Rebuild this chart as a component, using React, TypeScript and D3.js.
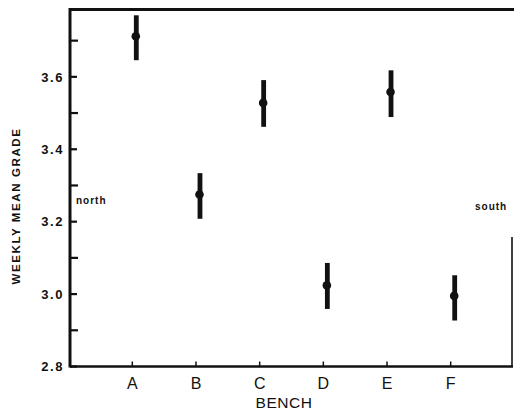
import React from "react";
import * as d3 from "d3";

const benches = ["A", "B", "C", "D", "E", "F"];
const meanGrade = [3.712, 3.275, 3.528, 3.024, 3.558, 2.995];
const upperGrade = [3.77, 3.334, 3.591, 3.086, 3.618, 3.052];
const lowerGrade = [3.646, 3.208, 3.462, 2.959, 3.489, 2.927];
const majorTicks = [2.8, 3.0, 3.2, 3.4, 3.6];
const minorTicks = [2.9, 3.1, 3.3, 3.5, 3.7];

const W = 514;
const H = 411;
const left = 70;
const right = 512;
const top = 9.5;
const bottom = 366.5;

export default function App() {
  const y = d3.scaleLinear().domain([2.8, 3.786]).range([bottom, top]);
  const x = d3.scalePoint<string>().domain(benches).range([132.3, 450.7]);
  const markOffset = 4;
  const ink = "#111";

  return (
    <svg
      width={W}
      height={H}
      style={{ position: "absolute", left: 0, top: 0, background: "#fff" }}
      fontFamily="'Liberation Sans', Arial, sans-serif"
    >
      <rect x={0} y={0} width={W} height={H} fill="#fff" />
      {/* frame */}
      <line x1={left} y1={top} x2={W} y2={top} stroke={ink} strokeWidth={3} />
      <line x1={left} y1={top - 1.5} x2={left} y2={bottom + 1} stroke={ink} strokeWidth={3} />
      <line x1={left} y1={bottom} x2={right + 1} y2={bottom} stroke={ink} strokeWidth={2.5} />
      <line x1={right} y1={237} x2={right} y2={bottom} stroke={ink} strokeWidth={1.6} />

      {/* y ticks */}
      {majorTicks.map((t) => (
        <g key={"M" + t}>
          <line x1={left} x2={left + 7} y1={y(t)} y2={y(t)} stroke={ink} strokeWidth={2.2} />
          <text
            x={64}
            y={y(t)}
            dy="0.36em"
            textAnchor="end"
            fontSize={13}
            fontWeight="bold"
            letterSpacing={1.6}
            fill={ink}
          >
            {t.toFixed(1)}
          </text>
        </g>
      ))}
      {minorTicks.map((t) => (
        <line key={"m" + t} x1={left} x2={left + 8} y1={y(t)} y2={y(t)} stroke={ink} strokeWidth={2.2} />
      ))}

      {/* x ticks */}
      {benches.map((b) => (
        <g key={b}>
          <line x1={x(b)!} x2={x(b)!} y1={bottom} y2={bottom - 5} stroke={ink} strokeWidth={1.5} />
          <text x={x(b)!} y={389} textAnchor="middle" fontSize={16} fill={ink}>
            {b}
          </text>
        </g>
      ))}

      {/* error bars and means */}
      {benches.map((b, i) => {
        const cx = x(b)! + markOffset;
        return (
          <g key={"p" + b}>
            <rect
              x={cx - 2.4}
              y={y(upperGrade[i])}
              width={4.8}
              height={y(lowerGrade[i]) - y(upperGrade[i])}
              fill={ink}
            />
            <circle cx={cx - 0.5} cy={y(meanGrade[i])} r={4.3} fill={ink} />
          </g>
        );
      })}

      {/* annotations */}
      <text x={76} y={204} fontSize={10} fontWeight="bold" fill={ink} letterSpacing={1}>
        north
      </text>
      <text x={475} y={210} fontSize={10} fontWeight="bold" fill={ink} letterSpacing={1}>
        south
      </text>

      {/* axis titles */}
      <text x={284} y={407.5} textAnchor="middle" fontSize={15.5} fill={ink} letterSpacing={0.5}>
        BENCH
      </text>
      <text
        transform={`translate(20, ${206}) rotate(-90)`}
        textAnchor="middle"
        fontSize={11.5}
        fontWeight="bold"
        letterSpacing={1.6}
        fill={ink}
      >
        WEEKLY MEAN GRADE
      </text>
    </svg>
  );
}
